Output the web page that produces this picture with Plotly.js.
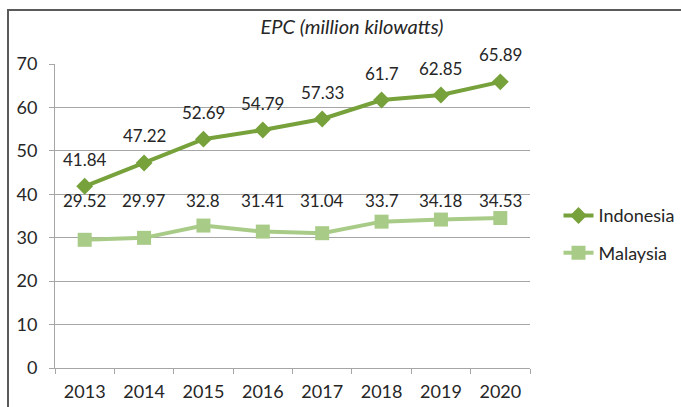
<!DOCTYPE html>
<html>
<head>
<meta charset="utf-8">
<script src="https://cdn.plot.ly/plotly-3.0.1.min.js"></script>
<style>
  html, body { margin: 0; padding: 0; background: #fff; }
  #wrap { position: relative; width: 681px; height: 407px; overflow: hidden; }
  #frame { position: absolute; left: 7px; top: 9px; width: 700px; height: 420px;
           border-left: 2px solid #5a5a5a; border-top: 2px solid #5a5a5a; }
  #chart { position: absolute; left: 0; top: 0; width: 681px; height: 407px; }
</style>
</head>
<body>
<div id="wrap">
  <div id="frame"></div>
  <div id="chart"></div>
</div>
<script>
const years = ["2013", "2014", "2015", "2016", "2017", "2018", "2019", "2020"];
const indonesia = [41.84, 47.22, 52.69, 54.79, 57.33, 61.7, 62.85, 65.89];
const malaysia = [29.52, 29.97, 32.8, 31.41, 31.04, 33.7, 34.18, 34.53];
const yTicks = [0, 10, 20, 30, 40, 50, 60, 70];

const FONT = "Lato, 'Open Sans', sans-serif";
const TXT = "#262626";
const cIndo = "#77a13b";
const cMal = "#a9cb88";

const traces = [
  {
    x: years, y: indonesia, name: "Indonesia", type: "scatter", mode: "lines+markers",
    line: { color: cIndo, width: 4 },
    marker: { symbol: "diamond", size: 13, color: cIndo },
    legendgroup: "a", cliponaxis: false
  },
  {
    x: years, y: malaysia, name: "Malaysia", type: "scatter", mode: "lines+markers",
    line: { color: cMal, width: 4 },
    marker: { symbol: "square", size: 14, color: cMal },
    legendgroup: "b", cliponaxis: false
  }
];

const annotations = [];
years.forEach((yr, i) => {
  annotations.push({ x: i, y: indonesia[i], xref: "x", yref: "y", text: String(indonesia[i]),
    showarrow: false, yshift: 27, font: { family: FONT, size: 17, color: TXT } });
  annotations.push({ x: i, y: 38.6, xref: "x", yref: "y", text: String(malaysia[i]),
    showarrow: false, font: { family: FONT, size: 17, color: TXT } });
});

const layout = {
  width: 681, height: 407,
  margin: { l: 55, r: 151, t: 64, b: 39, autoexpand: false },
  paper_bgcolor: "rgba(0,0,0,0)",
  plot_bgcolor: "rgba(0,0,0,0)",
  font: { family: FONT, size: 16, color: TXT },
  title: { text: "<i>EPC (million kilowatts)</i>", x: 0.517, xanchor: "center", y: 0.933, yanchor: "middle",
           font: { family: FONT, size: 20, color: TXT } },
  xaxis: {
    type: "category", autotypenumbers: "strict", range: [-0.5, 7.5], autorange: false,
    showgrid: false, showline: true, linecolor: "#a6a6a6", linewidth: 1,
    ticks: "outside", tickson: "boundaries", ticklen: 5, tickcolor: "#a6a6a6",
    ticklabelstandoff: 7,
    tickangle: 0, tickfont: { family: FONT, size: 18, color: TXT }, fixedrange: true
  },
  yaxis: {
    range: [0, 70], autorange: false, tickvals: yTicks, showgrid: true, gridcolor: "#a6a6a6", gridwidth: 1,
    zeroline: false, showline: true, linecolor: "#a6a6a6", linewidth: 1,
    ticks: "outside", ticklen: 5, tickcolor: "#a6a6a6", ticklabelstandoff: 8,
    tickfont: { family: FONT, size: 18, color: TXT }, fixedrange: true
  },
  showlegend: true,
  legend: {
    x: 1.06, xanchor: "left", y: 0.44, yanchor: "middle",
    font: { family: FONT, size: 18, color: TXT },
    traceorder: "grouped", tracegroupgap: 11, bgcolor: "rgba(0,0,0,0)", itemwidth: 30
  },
  annotations: annotations
};

Plotly.newPlot("chart", traces, layout, { displayModeBar: false, staticPlot: true });
</script>
</body>
</html>
